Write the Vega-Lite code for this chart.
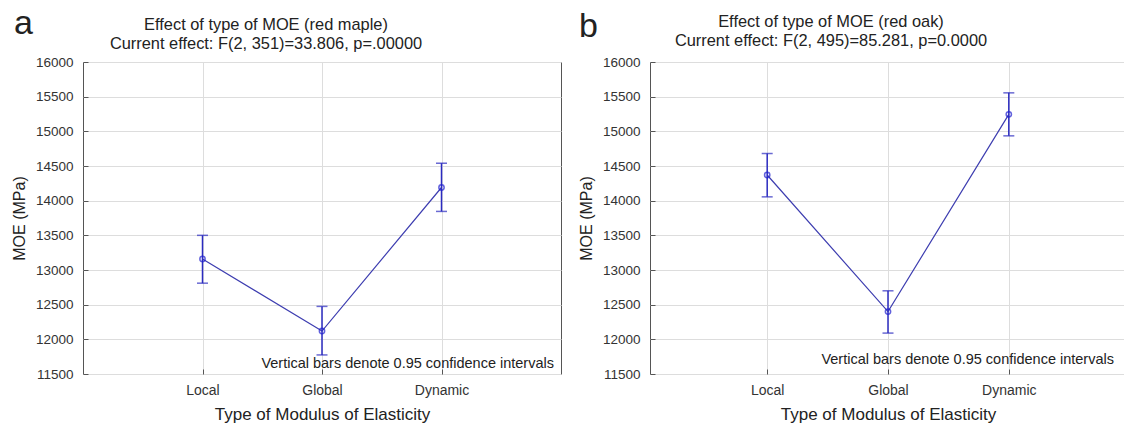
{
  "$schema": "https://vega.github.io/schema/vega-lite/v6.json",
  "padding": {"left": 10, "top": 7, "right": 0, "bottom": 0},
  "background": "white",
  "datasets": {
    "maple": [
      {"type": "Local", "mean": 13160, "lo": 12810, "hi": 13500},
      {"type": "Global", "mean": 12120, "lo": 11775, "hi": 12475},
      {"type": "Dynamic", "mean": 14190, "lo": 13845, "hi": 14540}
    ],
    "oak": [
      {"type": "Local", "mean": 14370, "lo": 14055, "hi": 14680},
      {"type": "Global", "mean": 12400, "lo": 12090, "hi": 12700},
      {"type": "Dynamic", "mean": 15245, "lo": 14935, "hi": 15555}
    ],
    "note": [{"note": "Vertical bars denote 0.95 confidence intervals"}]
  },
  "hconcat": [
    {
      "title": {"text": "a", "anchor": "start", "frame": "bounds", "fontSize": 34, "offset": -25, "dx": 3},
      "vconcat": [
        {
          "width": 478,
          "height": 312,
          "title": {"text": ["Effect of type of MOE (red maple)", "Current effect: F(2, 351)=33.806, p=.00000"], "dx": -56, "offset": 3},
          "encoding": {
            "x": {"field": "type", "type": "nominal", "sort": ["Local", "Global", "Dynamic"], "scale": {"type": "point", "padding": 1}, "title": "Type of Modulus of Elasticity", "axis": {"labelAngle": 0, "labelPadding": 14, "titlePadding": 9, "labelFontSize": 14}}
          },
          "layer": [
            {
              "data": {"name": "maple"},
              "mark": {"type": "line", "color": "#3d3db0", "strokeWidth": 1.2},
              "encoding": {"y": {"field": "mean", "type": "quantitative", "scale": {"domain": [11500, 16000], "nice": false, "zero": false}, "title": "MOE (MPa)", "axis": {"values": [11500, 12000, 12500, 13000, 13500, 14000, 14500, 15000, 15500, 16000], "tickCount": 20, "format": "d", "labelPadding": 15, "titlePadding": 8, "labelOverlap": false, "titleFontSize": 16}}}
            },
            {
              "data": {"name": "maple"},
              "mark": {"type": "rule", "color": "#2b2bc0", "strokeWidth": 1.5},
              "encoding": {"y": {"field": "lo", "type": "quantitative"}, "y2": {"field": "hi"}}
            },
            {
              "data": {"name": "maple"},
              "mark": {"type": "tick", "color": "#2b2bc0", "size": 11, "thickness": 1.5},
              "encoding": {"y": {"field": "lo", "type": "quantitative"}}
            },
            {
              "data": {"name": "maple"},
              "mark": {"type": "tick", "color": "#2b2bc0", "size": 11, "thickness": 1.5},
              "encoding": {"y": {"field": "hi", "type": "quantitative"}}
            },
            {
              "data": {"name": "maple"},
              "mark": {"type": "point", "shape": "circle", "filled": false, "color": "#2020d0", "size": 28, "strokeWidth": 1.5},
              "encoding": {"y": {"field": "mean", "type": "quantitative"}}
            },
            {
              "data": {"name": "note"},
              "mark": {"type": "text", "align": "right", "baseline": "middle", "dx": -7, "fontSize": 14.5, "color": "#222", "font": "Liberation Sans"},
              "encoding": {"x": {"value": "width"}, "y": {"datum": 11644}, "text": {"field": "note"}}
            }
          ]
        }
      ]
    },
    {
      "title": {"text": "b", "anchor": "start", "frame": "bounds", "fontSize": 34, "offset": -31, "dx": 1},
      "vconcat": [
        {
          "width": 476,
          "height": 312,
          "title": {"text": ["Effect of type of MOE (red oak)", "Current effect: F(2, 495)=85.281, p=0.0000"], "dx": -57, "offset": 6},
          "encoding": {
            "x": {"field": "type", "type": "nominal", "sort": ["Local", "Global", "Dynamic"], "scale": {"type": "point", "padding": 0.97}, "title": "Type of Modulus of Elasticity", "axis": {"labelAngle": 0, "labelPadding": 14, "titlePadding": 9, "labelFontSize": 14}}
          },
          "layer": [
            {
              "data": {"name": "oak"},
              "mark": {"type": "line", "color": "#3d3db0", "strokeWidth": 1.2},
              "encoding": {"y": {"field": "mean", "type": "quantitative", "scale": {"domain": [11500, 16000], "nice": false, "zero": false}, "title": "MOE (MPa)", "axis": {"values": [11500, 12000, 12500, 13000, 13500, 14000, 14500, 15000, 15500, 16000], "tickCount": 20, "format": "d", "labelPadding": 15, "titlePadding": 8, "labelOverlap": false, "titleFontSize": 16}}}
            },
            {
              "data": {"name": "oak"},
              "mark": {"type": "rule", "color": "#2b2bc0", "strokeWidth": 1.5},
              "encoding": {"y": {"field": "lo", "type": "quantitative"}, "y2": {"field": "hi"}}
            },
            {
              "data": {"name": "oak"},
              "mark": {"type": "tick", "color": "#2b2bc0", "size": 11, "thickness": 1.5},
              "encoding": {"y": {"field": "lo", "type": "quantitative"}}
            },
            {
              "data": {"name": "oak"},
              "mark": {"type": "tick", "color": "#2b2bc0", "size": 11, "thickness": 1.5},
              "encoding": {"y": {"field": "hi", "type": "quantitative"}}
            },
            {
              "data": {"name": "oak"},
              "mark": {"type": "point", "shape": "circle", "filled": false, "color": "#2020d0", "size": 28, "strokeWidth": 1.5},
              "encoding": {"y": {"field": "mean", "type": "quantitative"}}
            },
            {
              "data": {"name": "note"},
              "mark": {"type": "text", "align": "right", "baseline": "middle", "dx": -12, "fontSize": 14.5, "color": "#222", "font": "Liberation Sans"},
              "encoding": {"x": {"value": "width"}, "y": {"datum": 11700}, "text": {"field": "note"}}
            }
          ]
        }
      ]
    }
  ],
  "spacing": 15,
  "config": {
    "font": "Liberation Sans",
    "view": {"stroke": "#555555", "strokeWidth": 1},
    "axis": {
      "domain": false,
      "grid": true,
      "gridColor": "#dddddd",
      "gridWidth": 1,
      "labelFont": "Liberation Sans",
      "labelFontSize": 13.5,
      "labelColor": "#333333",
      "titleFont": "Liberation Sans",
      "titleFontSize": 17,
      "titleFontWeight": "normal",
      "titleColor": "#222222",
      "tickColor": "#555555",
      "tickSize": -5
    },
    "title": {"font": "Liberation Sans", "fontSize": 16.4, "fontWeight": "normal", "color": "#222222", "lineHeight": 19, "anchor": "middle"}
  }
}
